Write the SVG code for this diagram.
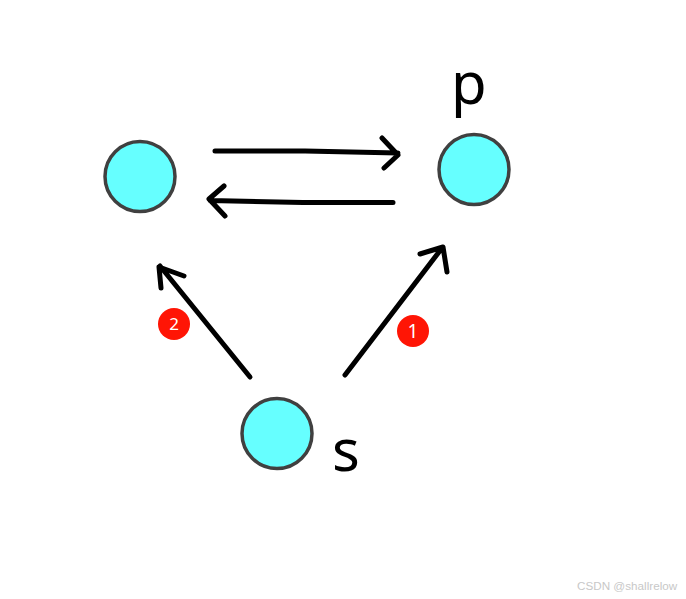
<svg xmlns="http://www.w3.org/2000/svg" width="686" height="599" viewBox="0 0 686 599">
<style>
.n{fill:#66ffff;stroke:#404040;stroke-width:3.500}
.c{fill:none;stroke:#000;stroke-width:5;stroke-linecap:round;stroke-linejoin:round}
.b{fill:#ff1505}
.bt{fill:#fff;font-family:"Noto Sans","Open Sans",sans-serif;text-anchor:middle}
.t{fill:#000;font-family:"Noto Sans","Open Sans",sans-serif;font-size:58px}
.w{fill:#c8c8c8;font:11.700px "Liberation Sans",Arial,sans-serif}
</style>
<rect width="686" height="599" fill="#fff"/>
<g id="node-left"><circle class="n" cx="140" cy="176.500" r="35"/></g>
<g id="node-p"><circle class="n" cx="474" cy="169.500" r="35"/><text class="t" x="451" y="104">p</text></g>
<g id="node-s"><circle class="n" cx="277" cy="433.500" r="35"/><text class="t" x="332" y="471">s</text></g>
<g id="connectors">
<path class="c" d="M215 151H305L398 153M382 138L398 155L384 168"/>
<path class="c" d="M393 202.500H303L210 200.500M224 186L209 199L225 216"/>
<path class="c" d="M345 375L442 248M420 254L443 247L447 272"/>
<path class="c" d="M250 377L160 266M161 288L159 267L184 276"/>
</g>
<g id="badge-1"><circle class="b" cx="413" cy="331" r="16"/><text class="bt" font-size="19" x="413" y="338">1</text></g>
<g id="badge-2"><circle class="b" cx="174" cy="324" r="16"/><text class="bt" font-size="17" x="174" y="330">2</text></g>
<text class="w" x="577" y="590">CSDN @shallrelow</text>
</svg>
